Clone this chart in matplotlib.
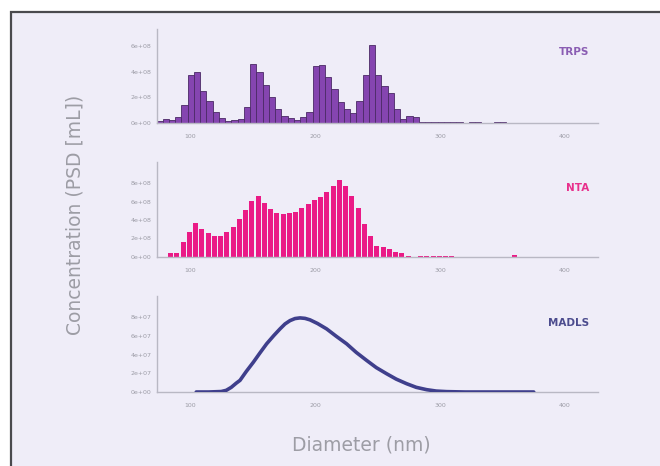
import matplotlib
matplotlib.use("Agg")
import matplotlib.pyplot as plt
from matplotlib.patches import Rectangle
from matplotlib.ticker import FuncFormatter

# ---------------- data ----------------
bin_width = 5.0
trps_first = 75.5
trps_vals = [0.20, 0.34, 0.26, 0.52, 1.45, 3.77, 4.00, 2.50, 1.70, 0.86,
             0.42, 0.20, 0.26, 0.34, 1.27, 4.62, 3.97, 3.00, 2.03, 1.12,
             0.60, 0.42, 0.26, 0.52, 0.86, 4.42, 4.55, 3.58, 2.62, 1.64,
             1.09, 0.78, 1.69, 3.71, 6.10, 3.77, 2.86, 2.34, 1.09, 0.34,
             0.60, 0.52, 0.10, 0.08, 0.08, 0.08, 0.08, 0.08, 0.08, 0.0,
             0.08, 0.08, 0.0, 0.0, 0.08, 0.08]  # x 1e8

nta_first = 84.5
nta_vals = [0.36, 0.36, 1.64, 2.73, 3.64, 2.98, 2.62, 2.25, 2.25, 2.73,
            3.27, 4.07, 5.09, 6.11, 6.55, 5.82, 5.16, 4.73, 4.62, 4.73,
            4.91, 5.35, 5.71, 6.18, 6.44, 7.09, 7.64, 8.29, 7.64, 6.62,
            5.27, 3.53, 2.25, 1.16, 1.02, 0.80, 0.55, 0.36, 0.07, 0.0,
            0.10, 0.10, 0.10, 0.10, 0.10, 0.10, 0.0, 0.0, 0.0, 0.0,
            0.0, 0.0, 0.0, 0.0, 0.0, 0.15]  # x 1e8

madls_d = [105, 115, 125, 129, 133, 137, 140, 145, 150.7, 156, 161.3, 167,
           172, 176, 180, 184, 188, 192, 196, 202, 209.3, 217, 225.3, 233,
           241.3, 249, 257.3, 265, 273.3, 281, 289.3, 297, 305.3, 320, 340, 375]
madls_v = [0.0, 0.0, 0.05, 0.18, 0.5, 0.95, 1.25, 2.2, 3.2, 4.2, 5.17, 6.05,
           6.77, 7.3, 7.66, 7.88, 7.95, 7.9, 7.74, 7.35, 6.77, 5.98, 5.17, 4.25,
           3.39, 2.62, 1.96, 1.38, 0.89, 0.5, 0.25, 0.1, 0.04, 0.0, 0.0, 0.0]  # x 1e7

x_ticks = [100, 200, 300, 400]
trps_yticks = [0, 2e8, 4e8, 6e8]
nta_yticks = [0, 2e8, 4e8, 6e8, 8e8]
madls_yticks = [0, 2e7, 4e7, 6e7, 8e7]

# ---------------- figure ----------------
W, H = 660, 466
fig = plt.figure(figsize=(W / 100, H / 100), dpi=100)
fig.patch.set_facecolor("white")
bg = "#efedf8"
fig.patches.append(Rectangle((11 / W, -0.1), 1.2, 1.1 - 11.5 / H,
                             transform=fig.transFigure, facecolor=bg,
                             edgecolor="#4a4a4e", linewidth=1.6, zorder=-10))

left, width = 157 / W, (598 - 157) / W
xlim = (73.6, 426.4)

def fmt(v, pos):
    return "%.0e" % v

def setup(ax, yticks, ylim):
    ax.set_facecolor("none")
    ax.set_xlim(*xlim)
    ax.set_ylim(*ylim)
    for s in ("top", "right"):
        ax.spines[s].set_visible(False)
    for s in ("left", "bottom"):
        ax.spines[s].set_color("#b9b8c4")
        ax.spines[s].set_linewidth(1.0)
    ax.set_xticks(x_ticks)
    ax.set_yticks(yticks)
    ax.yaxis.set_major_formatter(FuncFormatter(fmt))
    ax.tick_params(length=0, labelsize=4.5, labelcolor="#9c9ca6")
    ax.tick_params(axis="x", pad=8)
    ax.tick_params(axis="y", pad=4)

# TRPS
ax1 = fig.add_axes([left, (H - 123.3) / H, width, 94.3 / H])
setup(ax1, trps_yticks, (0, 7.3e8))
xs = [trps_first + i * bin_width for i in range(len(trps_vals))]
ax1.bar(xs, [v * 1e8 for v in trps_vals], width=bin_width, color="#8545b0",
        edgecolor="#4b2a66", linewidth=0.6, zorder=2)
ax1.text(0.98, 0.756, "TRPS", transform=ax1.transAxes, ha="right", va="center",
         fontsize=7.5, fontweight="bold", color="#8a5db3")

# NTA
ax2 = fig.add_axes([left, (H - 256.7) / H, width, 94.7 / H])
setup(ax2, nta_yticks, (0, 10.3e8))
xs = [nta_first + i * bin_width for i in range(len(nta_vals))]
ax2.bar(xs, [v * 1e8 for v in nta_vals], width=bin_width * 0.78, color="#ea1a86",
        edgecolor="none", zorder=2)
ax2.text(0.98, 0.725, "NTA", transform=ax2.transAxes, ha="right", va="center",
         fontsize=7.5, fontweight="bold", color="#e8308c")

# MADLS
ax3 = fig.add_axes([left, (H - 392) / H, width, 96 / H])
setup(ax3, madls_yticks, (0, 10.3e7))
ax3.plot(madls_d, [v * 1e7 for v in madls_v], color="#3f3f8c", linewidth=2.6,
         solid_capstyle="round", solid_joinstyle="round", zorder=3)
ax3.text(0.98, 0.72, "MADLS", transform=ax3.transAxes, ha="right", va="center",
         fontsize=7.5, fontweight="bold", color="#4c4c8e")

fig.text(75 / W, 1 - 215 / H, "Concentration (PSD [mL])", rotation=90,
         ha="center", va="center", fontsize=13.5, color="#9d9da5")
fig.text(361 / W, 1 - 445 / H, "Diameter (nm)", ha="center", va="center",
         fontsize=13.5, color="#9d9da5")

fig.savefig("out.png", dpi=100, facecolor="white")
